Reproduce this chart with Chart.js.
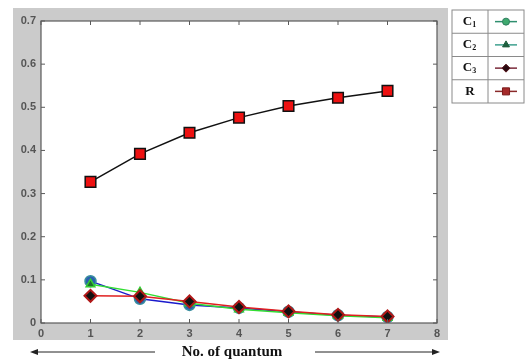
<!DOCTYPE html>
<html lang="en">
<head>
  <meta charset="UTF-8" />
  <title>No. of quantum</title>
  <script src="https://cdn.jsdelivr.net/npm/chart.js"></script>
  <style>
    body { margin: 0; background: #fff; }
  </style>
</head>
<body>
  <canvas id="grafico" width="525" height="360"></canvas>

  <script>
    // valores
    const quanta = [1, 2, 3, 4, 5, 6, 7];
    const valoresC1 = [0.097, 0.056, 0.042, 0.035, 0.026, 0.018, 0.014];
    const valoresC2 = [0.090, 0.071, 0.046, 0.032, 0.024, 0.017, 0.012];
    const valoresC3 = [0.063, 0.062, 0.050, 0.037, 0.027, 0.019, 0.015];
    const valoresR = [0.327, 0.392, 0.441, 0.476, 0.503, 0.522, 0.538];
    const ticksX = [0, 1, 2, 3, 4, 5, 6, 7, 8];
    const ticksY = [0, 0.1, 0.2, 0.3, 0.4, 0.5, 0.6, 0.7];
    const nomesLegenda = ['C', 'C', 'C', 'R'];
    const indicesLegenda = ['1', '2', '3', ''];
    const tituloX = 'No. of quantum';

    const pontos = vals => quanta.map((q, i) => ({ x: q, y: vals[i] }));

    // fundo cinza, caixa, ticks internos, legenda em tabela e título do eixo
    const estiloMatlab = {
      id: 'estiloMatlab',
      beforeDraw(chart) {
        const { ctx, chartArea: a } = chart;
        ctx.save();
        ctx.fillStyle = '#cbcbcb';
        ctx.fillRect(13, 8, 435, 332);
        ctx.fillStyle = '#ffffff';
        ctx.fillRect(a.left, a.top, a.right - a.left, a.bottom - a.top);
        ctx.restore();
      },
      afterDraw(chart) {
        const { ctx, chartArea: a, scales } = chart;
        ctx.save();
        ctx.strokeStyle = '#5a5a5a';
        ctx.lineWidth = 1.2;
        ctx.strokeRect(a.left, a.top, a.right - a.left, a.bottom - a.top);

        ctx.lineWidth = 1;
        ticksX.forEach(v => {
          const x = scales.x.getPixelForValue(v);
          ctx.beginPath();
          ctx.moveTo(x, a.bottom); ctx.lineTo(x, a.bottom - 4);
          ctx.moveTo(x, a.top); ctx.lineTo(x, a.top + 4);
          ctx.stroke();
        });
        ticksY.forEach(v => {
          const y = scales.y.getPixelForValue(v);
          ctx.beginPath();
          ctx.moveTo(a.left, y); ctx.lineTo(a.left + 4, y);
          ctx.moveTo(a.right, y); ctx.lineTo(a.right - 4, y);
          ctx.stroke();
        });

        // legenda em forma de tabela
        const lx = 452, ly = 10, lw = 72, lh = 93, col = 488;
        const rowH = lh / 4;
        ctx.fillStyle = '#ffffff';
        ctx.fillRect(lx, ly, lw, lh);
        ctx.strokeStyle = '#8a8a8a';
        ctx.lineWidth = 1;
        ctx.strokeRect(lx, ly, lw, lh);
        ctx.beginPath();
        ctx.moveTo(col, ly); ctx.lineTo(col, ly + lh);
        for (let i = 1; i < 4; i++) {
          ctx.moveTo(lx, ly + rowH * i); ctx.lineTo(lx + lw, ly + rowH * i);
        }
        ctx.stroke();

        const marcas = [
          { linha: '#2f8f6f', cor: '#3faa6f', borda: '#2f7f5f', estilo: 'circle', r: 3.5 },
          { linha: '#3fa08f', cor: '#1f5f3f', borda: '#1f5f3f', estilo: 'triangle', r: 4 },
          { linha: '#7a2a3a', cor: '#2a0a10', borda: '#5a1a20', estilo: 'rectRot', r: 4 },
          { linha: '#8a2a2a', cor: '#a52a2a', borda: '#7a1a1a', estilo: 'rect', r: 5 }
        ];
        ctx.textBaseline = 'middle';
        nomesLegenda.forEach((nome, i) => {
          const cy = ly + rowH * i + rowH / 2;
          ctx.fillStyle = '#111';
          ctx.font = 'bold 13px "Liberation Serif", serif';
          ctx.textAlign = 'left';
          const wNome = ctx.measureText(nome).width;
          const x0 = (lx + col) / 2 - (wNome + (indicesLegenda[i] ? 5 : 0)) / 2;
          ctx.fillText(nome, x0, cy);
          if (indicesLegenda[i]) {
            ctx.font = 'bold 8px "Liberation Serif", serif';
            ctx.fillText(indicesLegenda[i], x0 + wNome, cy + 3);
          }
          const m = marcas[i];
          const mx = (col + lx + lw) / 2;
          ctx.strokeStyle = m.linha;
          ctx.lineWidth = 1.5;
          ctx.beginPath();
          ctx.moveTo(mx - 11, cy); ctx.lineTo(mx + 11, cy);
          ctx.stroke();
          ctx.fillStyle = m.cor;
          ctx.strokeStyle = m.borda;
          ctx.lineWidth = 1;
          Chart.helpers.drawPoint(ctx, { pointStyle: m.estilo, radius: m.r, borderWidth: 1 }, mx, cy);
        });

        // título do eixo x com setas
        const ty = 352;
        ctx.fillStyle = '#111';
        ctx.font = 'bold 15px "Liberation Serif", serif';
        ctx.textAlign = 'center';
        ctx.fillText(tituloX, 232, ty);
        ctx.strokeStyle = '#222';
        ctx.fillStyle = '#222';
        ctx.lineWidth = 1;
        ctx.beginPath();
        ctx.moveTo(36, ty); ctx.lineTo(155, ty);
        ctx.moveTo(315, ty); ctx.lineTo(434, ty);
        ctx.stroke();
        ctx.beginPath();
        ctx.moveTo(30, ty); ctx.lineTo(38, ty - 3); ctx.lineTo(38, ty + 3); ctx.closePath();
        ctx.moveTo(440, ty); ctx.lineTo(432, ty - 3); ctx.lineTo(432, ty + 3); ctx.closePath();
        ctx.fill();
        ctx.restore();
      }
    };

    const ctx = document.getElementById('grafico').getContext('2d');
    new Chart(ctx, {
      type: 'line',
      data: {
        datasets: [
          {
            label: 'C3',
            data: pontos(valoresC3),
            borderColor: '#e02020',
            borderWidth: 1.5,
            pointStyle: 'rectRot',
            pointRadius: 6,
            pointBackgroundColor: '#111111',
            pointBorderColor: '#b01818',
            pointBorderWidth: 2,
            order: 0
          },
          {
            label: 'C2',
            data: pontos(valoresC2),
            borderColor: '#33dd33',
            borderWidth: 1.5,
            pointStyle: 'triangle',
            pointRadius: 5,
            pointBackgroundColor: '#1f6f2f',
            pointBorderColor: '#33cc33',
            pointBorderWidth: 1.5,
            order: 1
          },
          {
            label: 'C1',
            data: pontos(valoresC1),
            borderColor: '#1a1acc',
            borderWidth: 1.5,
            pointStyle: 'circle',
            pointRadius: 5.5,
            pointBackgroundColor: '#2a5fb0',
            pointBorderColor: '#3a8f9f',
            pointBorderWidth: 1.5,
            order: 2
          },
          {
            label: 'R',
            data: pontos(valoresR),
            borderColor: '#111111',
            borderWidth: 1.5,
            pointStyle: 'rect',
            pointRadius: 7.5,
            pointBackgroundColor: '#ee1111',
            pointBorderColor: '#111111',
            pointBorderWidth: 1.5,
            order: 3
          }
        ]
      },
      options: {
        responsive: false,
        animation: false,
        devicePixelRatio: 1,
        layout: { padding: { left: 0, top: 21, right: 88, bottom: 0 } },
        plugins: {
          legend: { display: false },
          tooltip: { enabled: false }
        },
        scales: {
          x: {
            type: 'linear',
            min: 0,
            max: 8,
            afterFit: s => { s.height = 37; },
            afterBuildTicks: s => { s.ticks = ticksX.map(v => ({ value: v })); },
            grid: { display: false, drawTicks: false },
            border: { display: false },
            ticks: {
              color: '#555',
              padding: 4,
              font: { family: '"Liberation Sans", Arial, sans-serif', size: 11, weight: 'bold' }
            }
          },
          y: {
            min: 0,
            max: 0.7,
            afterFit: s => { s.width = 41; },
            afterBuildTicks: s => { s.ticks = ticksY.map(v => ({ value: v })); },
            grid: { display: false, drawTicks: false },
            border: { display: false },
            ticks: {
              color: '#555',
              padding: 5,
              callback: v => String(Math.round(v * 10) / 10),
              font: { family: '"Liberation Sans", Arial, sans-serif', size: 11, weight: 'bold' }
            }
          }
        }
      },
      plugins: [estiloMatlab]
    });
  </script>
</body>
</html>
